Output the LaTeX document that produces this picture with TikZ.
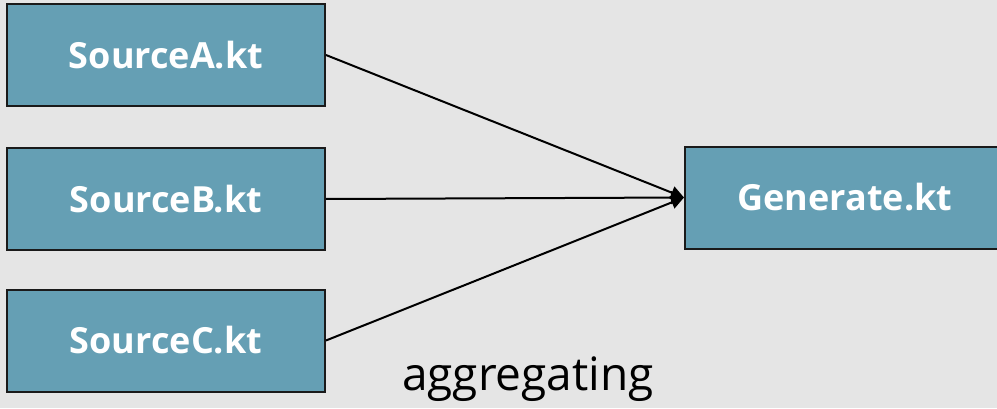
\documentclass[tikz,border=0pt]{standalone}
\usepackage{fontspec}
\setmainfont{Open Sans}
\usetikzlibrary{arrows.meta}
\definecolor{bg}{HTML}{E5E5E5}
\definecolor{boxfill}{HTML}{659FB4}
\definecolor{boxline}{HTML}{1A1A1A}
\tikzset{
  filebox/.style={draw=boxline, line width=2pt, fill=boxfill, minimum width=318pt, minimum height=102pt, inner sep=0pt, text=white, font=\bfseries\fontsize{36}{40}\selectfont},
  conn/.style={draw=black, line width=2pt, -{Triangle[length=13pt,width=13pt]}}
}
\begin{document}
\begin{tikzpicture}[x=1pt,y=1pt]
\fill[bg] (0,0) rectangle (997,408);
\useasboundingbox (0,0) rectangle (997,408);
\node[filebox] (a) at (166,353) {SourceA.kt};
\node[filebox] (b) at (166,209) {SourceB.kt};
\node[filebox] (c) at (166,67.5) {SourceC.kt};
\node[filebox, minimum width=320pt] (g) at (845,210.5) {Generate.kt};
\draw[conn] (a.east) -- (g.west);
\draw[conn] (b.east) -- (g.west);
\draw[conn] (c.east) -- (g.west);
\node[font=\fontsize{46}{50}\selectfont, inner sep=0pt, anchor=base] (lbl) at (528,18) {aggregating};
\end{tikzpicture}
\end{document}
